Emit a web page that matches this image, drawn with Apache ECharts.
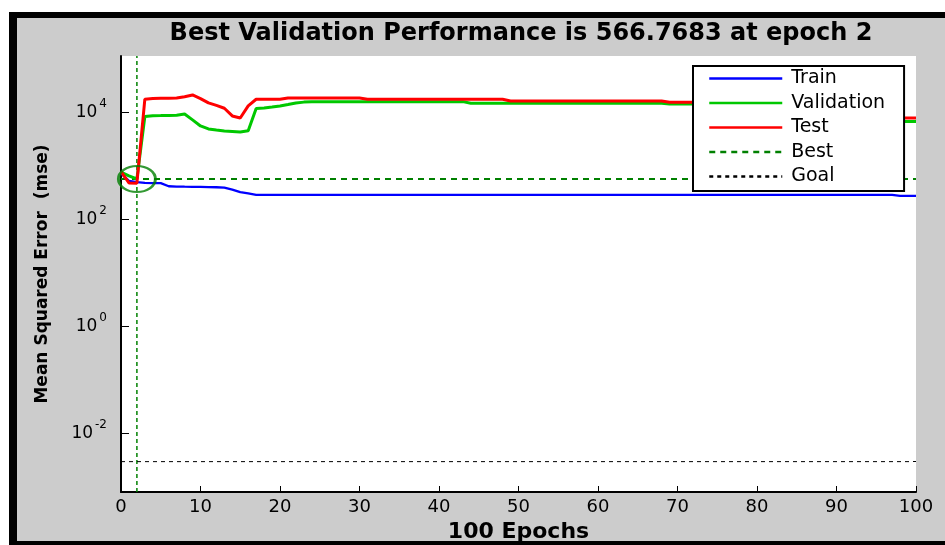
<!DOCTYPE html>
<html>
<head>
<meta charset="utf-8">
<script src="https://cdn.jsdelivr.net/npm/echarts@6/dist/echarts.min.js"></script>
<style>
html,body{margin:0;padding:0;background:#fff;}
#frame{position:absolute;left:9px;top:12px;width:936px;height:533px;box-sizing:border-box;border-top:6px solid #000;border-left:8px solid #000;border-bottom:4px solid #000;background:#cccccc;}
#chart{position:absolute;left:0;top:0;width:945px;height:545px;}
</style>
</head>
<body>
<div id="frame"></div>
<div id="chart"></div>
<script>
// ---- data ----
const epochs = [0,1,2,3,4,5,6,7,8,9,10,11,12,13,14,15,16,17,18,19,20,21,22,23,24,25,26,27,28,29,30,31,32,33,34,35,36,37,38,39,40,41,42,43,44,45,46,47,48,49,50,51,52,53,54,55,56,57,58,59,60,61,62,63,64,65,66,67,68,69,70,71,72,73,74,75,76,77,78,79,80,81,82,83,84,85,86,87,88,89,90,91,92,93,94,95,96,97,98,99,100];

const trainMSE = [720,525,495,478,476,474,415,410,407,405,403,400,398,392,360,322,305,
  286,286,286,286,286,286,286,286,286,286,286,286,286,286,286,286,286,286,286,286,
  286,286,286,286,286,286,286,286,286,286,286,286,286,286,286,286,286,286,286,286,
  286,286,286,286,286,286,286,286,286,286,286,286,286,286,286,286,286,286,286,286,
  286,286,286,286,286,286,286,286,286,286,286,286,286,286,286,286,286,286,286,286,
  286,274,274,274];

const validationMSE = [760,647,566.7683,8300,8640,8650,8700,8800,9300,7200,5550,4880,4670,4480,4390,4290,4500,
  11780,12030,12550,13120,13990,14930,15450,
  15780,15780,15780,15780,15780,15780,15780,15780,15780,15780,15780,15780,15780,15780,15780,15780,15780,15780,15780,15780,
  14730,14730,14730,14730,14730,14730,14730,14730,14730,14730,14730,14730,14730,14730,14730,14730,14730,14730,14730,14730,14730,14730,14730,14730,14730,
  14290,14290,14290,14290,14290,14290,14290,14290,14290,14290,14290,14290,14290,14290,14290,14290,14290,14290,14290,14290,14290,14290,14290,14290,14290,14290,14290,14290,
  6700,6700,6700,6700];

const testMSE = [780,478,473,17500,18000,18200,18300,18400,19500,21000,18000,14930,13400,11890,8530,7800,13120,
  17490,17490,17490,17490,
  18490,18490,18490,18490,18490,18490,18490,18490,18490,18490,
  17490,17490,17490,17490,17490,17490,17490,17490,17490,17490,17490,17490,17490,17490,17490,17490,17490,17490,
  16260,16260,16260,16260,16260,16260,16260,16260,16260,16260,16260,16260,16260,16260,16260,16260,16260,16260,16260,16260,
  15380,15380,15380,15380,15380,15380,15380,15380,15380,15380,15380,15380,15380,15380,15380,15380,15380,15380,15380,15380,15380,15380,15380,15380,15380,15380,15380,15380,
  7780,7780,7780,7780];

const bestEpoch = 2;
const bestPerf = 566.7683;
const goalPerf = 0.003;
const xTicks = [0,10,20,30,40,50,60,70,80,90,100];
const yTickExponents = [-2,0,2,4];
const legendNames = ['Train','Validation','Test','Best','Goal'];
const titleText = 'Best Validation Performance is 566.7683 at epoch 2';
const xName = '100 Epochs';
const yName = 'Mean Squared Error  (mse)';

// ---- chart ----
const Y_MIN = -3.09, Y_MAX = 5.05; // log10 axis range
const lg = v => Math.log10(v);
const pts = arr => epochs.map((e, i) => [e, lg(arr[i])]);
const FONT = 'DejaVu Sans';

const chart = echarts.init(document.getElementById('chart'), null, {renderer: 'canvas'});
chart.setOption({
  animation: false,
  backgroundColor: 'transparent',
  title: {
    text: titleText,
    left: 516, top: 17, textAlign: 'center',
    textStyle: {fontFamily: FONT, fontWeight: 'bold', fontSize: 24, color: '#000'}
  },
  legend: {
    data: legendNames,
    orient: 'vertical',
    left: 693, top: 66,
    z: 50,
    padding: [3, 19, 5, 15],
    itemGap: 5.5,
    itemWidth: 73, itemHeight: 14,
    backgroundColor: '#fff',
    borderColor: '#000', borderWidth: 2,
    selectedMode: false,
    itemStyle: {opacity: 0},
    lineStyle: {width: 2.5},
    textStyle: {fontFamily: FONT, fontSize: 19, lineHeight: 19, color: '#000', padding: [0, 0, 0, 4]}
  },
  grid: {
    left: 121, top: 56, width: 795, height: 436,
    show: true, backgroundColor: '#fff', borderWidth: 0,
    containLabel: false, outerBoundsMode: 'none'
  },
  xAxis: {
    type: 'value', min: xTicks[0], max: xTicks[xTicks.length - 1], interval: 10,
    name: xName, nameLocation: 'middle', nameGap: 24,
    nameTextStyle: {fontFamily: FONT, fontWeight: 'bold', fontSize: 22, color: '#000'},
    axisLine: {show: true, onZero: false, lineStyle: {color: '#000', width: 2}},
    axisTick: {show: true, inside: true, length: 6, lineStyle: {color: '#000', width: 1}},
    axisLabel: {margin: 6, fontFamily: FONT, fontSize: 18, color: '#000'},
    splitLine: {show: false}
  },
  yAxis: {
    type: 'value', min: Y_MIN, max: Y_MAX,
    name: yName, nameLocation: 'middle', nameGap: 70,
    nameTextStyle: {fontFamily: FONT, fontWeight: 'bold', fontSize: 17, color: '#000'},
    axisLine: {show: true, onZero: false, lineStyle: {color: '#000', width: 2}},
    axisTick: {show: true, inside: true, length: 8, customValues: yTickExponents, lineStyle: {color: '#000', width: 1}},
    axisLabel: {
      customValues: yTickExponents, margin: 14, color: '#000',
      formatter: v => '{b|10}{e|' + v + '}',
      rich: {
        b: {fontFamily: FONT, fontSize: 17, lineHeight: 29, color: '#000', verticalAlign: 'middle'},
        e: {fontFamily: FONT, fontSize: 12, lineHeight: 12, color: '#000', verticalAlign: 'top', padding: [0, 0, 0, 2]}
      }
    },
    splitLine: {show: false}
  },
  series: [
    {name: 'Train', type: 'line', data: pts(trainMSE), symbol: 'none', showSymbol: false, color: '#0000ff',
     lineStyle: {color: '#0000ff', width: 2.3}, z: 3},
    {name: 'Validation', type: 'line', data: pts(validationMSE), symbol: 'none', showSymbol: false, color: '#00c800',
     lineStyle: {color: '#00c800', width: 3}, z: 4},
    {name: 'Test', type: 'line', data: pts(testMSE), symbol: 'none', showSymbol: false, color: '#ff0000',
     lineStyle: {color: '#ff0000', width: 3}, z: 5},
    {name: 'Best', type: 'line', data: [[xTicks[0], lg(bestPerf)], [xTicks[xTicks.length - 1], lg(bestPerf)]],
     symbol: 'none', showSymbol: false, color: '#008000', lineStyle: {color: '#008000', width: 1.8, type: [6, 5]}, z: 2},
    {name: 'Best', type: 'line', data: [[bestEpoch, Y_MIN], [bestEpoch, Y_MAX]],
     symbol: 'none', showSymbol: false, color: '#008000', lineStyle: {color: '#008000', width: 1.5, type: [4, 3]}, z: 2},
    {name: 'Goal', type: 'line', data: [[xTicks[0], lg(goalPerf)], [xTicks[xTicks.length - 1], lg(goalPerf)]],
     symbol: 'none', showSymbol: false, color: '#000', lineStyle: {color: '#000', width: 1, type: [4, 4]}, z: 2},
    {name: 'bestMarker', type: 'scatter', data: [[bestEpoch, lg(bestPerf)]],
     symbol: 'circle', symbolSize: [37, 26],
     itemStyle: {color: 'rgba(0,0,0,0)', borderColor: '#008000', borderWidth: 2.5}, z: 6}
  ]
});
</script>
</body>
</html>
